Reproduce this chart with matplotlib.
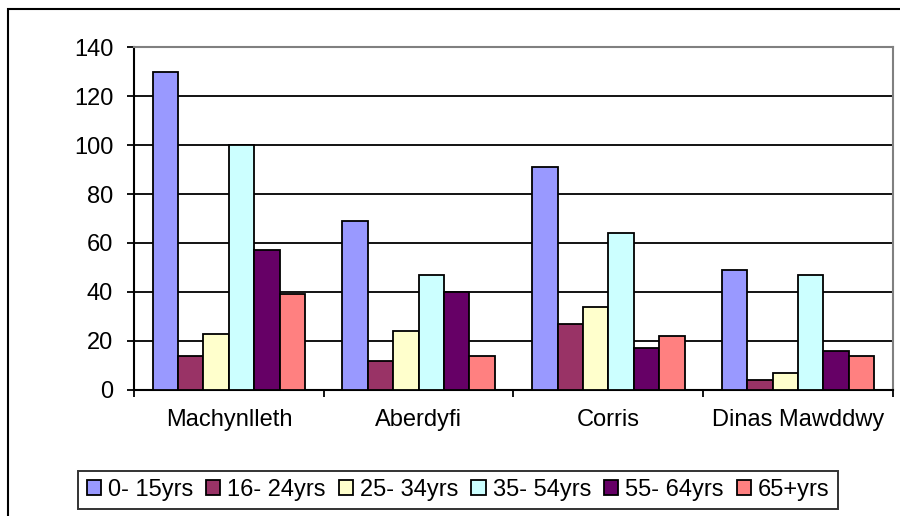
import matplotlib.pyplot as plt
from matplotlib.patches import Rectangle
import numpy as np

plt.rcParams['font.family'] = ['Liberation Sans', 'DejaVu Sans']

towns = ["Machynlleth", "Aberdyfi", "Corris", "Dinas Mawddwy"]
age_groups = ["0- 15yrs", "16- 24yrs", "25- 34yrs", "35- 54yrs", "55- 64yrs", "65+yrs"]
colours = ["#9999FF", "#993366", "#FFFFCC", "#CCFFFF", "#660066", "#FF8080"]

# one list per age group, values in town order
age_0_15 = [130, 69, 91, 49]
age_16_24 = [14, 12, 27, 4]
age_25_34 = [23, 24, 34, 7]
age_35_54 = [100, 47, 64, 47]
age_55_64 = [57, 40, 17, 16]
age_65_plus = [39, 14, 22, 14]
series = [age_0_15, age_16_24, age_25_34, age_35_54, age_55_64, age_65_plus]

fig = plt.figure(figsize=(9, 5.16), dpi=100)
ax = fig.add_axes([0.1489, 0.2442, 0.9922 - 0.1489, 0.9089 - 0.2442])

# outer chart border (right and bottom are off the picture)
fig.patches.append(Rectangle((8 / 900, -0.1), 1.2, 1 - 9 / 516 + 0.1,
                             transform=fig.transFigure, fill=False,
                             edgecolor='black', linewidth=1.5))

x = np.arange(len(towns))
w = 0.1338
for i, vals in enumerate(series):
    ax.bar(x + (i - 2.5) * w, vals, width=w, color=colours[i],
           edgecolor='black', linewidth=1.3, label=age_groups[i], zorder=3)

ax.set_xlim(-0.5, 3.5)
ax.set_ylim(0, 140)
ax.set_yticks(range(0, 141, 20))
ax.yaxis.grid(True, color='black', linewidth=1.3)
ax.set_axisbelow(True)

ax.set_xticks(np.arange(-0.5, 3.6, 1.0))
ax.set_xticklabels([])
ax.set_xticks(x, minor=True)
ax.set_xticklabels(towns, minor=True)
ax.tick_params(axis='x', which='major', direction='out', length=5, width=1.3)
ax.tick_params(axis='x', which='minor', length=0, pad=14, labelsize=17)
ax.tick_params(axis='y', direction='out', length=5, width=1.3, pad=10, labelsize=17)

for side in ['left', 'bottom']:
    ax.spines[side].set_color('black')
    ax.spines[side].set_linewidth(1.5)
for side in ['top', 'right']:
    ax.spines[side].set_color('#808080')
    ax.spines[side].set_linewidth(1.5)

leg = ax.legend(loc='center', bbox_to_anchor=(0.509, 0.0504),
                bbox_transform=fig.transFigure, ncol=6, fontsize=17,
                frameon=True, fancybox=False, edgecolor='black',
                handlelength=0.6, handleheight=0.6, handletextpad=0.3,
                columnspacing=0.55, borderpad=0.35)
leg.get_frame().set_linewidth(1.4)

fig.savefig("out.png", dpi=100)
